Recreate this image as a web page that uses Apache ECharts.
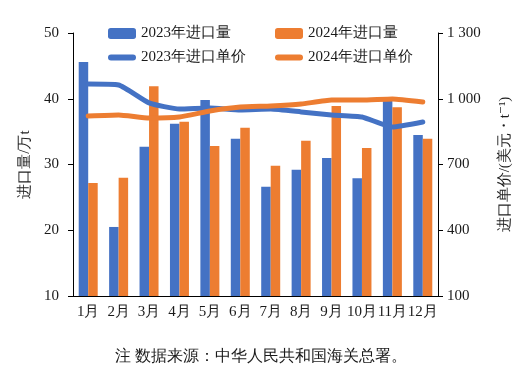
<!DOCTYPE html>
<html><head><meta charset="utf-8">
<script src="https://cdn.jsdelivr.net/npm/echarts@6/dist/echarts.min.js"></script>
<style>html,body{margin:0;padding:0;background:#fff}#c{width:521px;height:376px}</style>
</head><body><div id="c"></div>
<script>
const categories = ['1月','2月','3月','4月','5月','6月','7月','8月','9月','10月','11月','12月'];
const vol2023 = [45.6, 20.5, 32.7, 36.2, 39.8, 33.9, 26.6, 29.2, 31.0, 27.9, 39.8, 34.5];
const vol2024 = [27.2, 28.0, 41.9, 36.5, 32.8, 35.6, 29.8, 33.6, 38.9, 32.5, 38.7, 33.9];
const price2023 = [1067, 1063, 981, 953, 958, 949, 953, 940, 926, 917, 871, 894];
const price2024 = [921, 926, 912, 917, 944, 962, 967, 976, 994, 994, 999, 985];
const leftTicks = [10, 20, 30, 40, 50];
const rightTicks = [100, 400, 700, 1000, 1300];
const footnote = '注 数据来源：中华人民共和国海关总署。';

const FONT = "'Times New Roman', 'Liberation Serif', 'DejaVu Serif', serif";
const BLUE = '#4472C4', ORANGE = '#ED7D31', TXT = '#1a1a1a';
const LINE_ICON = 'path://M0,0 M28,11 M3,2.5 L25,2.5 A3,3 0 0 1 25,8.5 L3,8.5 A3,3 0 0 1 3,2.5 Z';
const chart = echarts.init(document.getElementById('c'), null, {renderer: 'canvas'});
const axisLine = {show: true, lineStyle: {color: '#000', width: 1}};
const fmt = v => v >= 1000 ? Math.floor(v/1000) + ' ' + String(v%1000).padStart(3,'0') : String(v);
const legendText = {fontFamily: FONT, fontSize: 15, color: TXT};
chart.setOption({
  animation: false,
  textStyle: {fontFamily: FONT, color: TXT},
  grid: {left: 73, right: 78, top: 33, bottom: 80},
  legend: [
    {left: 103, top: 21, orient: 'vertical', itemWidth: 28, itemHeight: 11, itemGap: 9, textStyle: legendText,
     data: [{name: '2023年进口量'}, {name: '2023年进口单价', icon: LINE_ICON, itemStyle: {color: BLUE}, lineStyle: {opacity: 0, width: 0}}]},
    {left: 270, top: 21, orient: 'vertical', itemWidth: 28, itemHeight: 11, itemGap: 9, textStyle: legendText,
     data: [{name: '2024年进口量'}, {name: '2024年进口单价', icon: LINE_ICON, itemStyle: {color: ORANGE}, lineStyle: {opacity: 0, width: 0}}]}
  ],
  xAxis: {
    type: 'category', data: categories,
    axisLine: axisLine, axisTick: {show: false},
    axisLabel: {interval: 0, margin: 9, fontSize: 15, color: TXT, fontFamily: FONT}
  },
  yAxis: [
    {type: 'value', min: 10, max: 50, interval: 10, name: '进口量/万t', nameLocation: 'middle',
     nameGap: 40, nameRotate: 90, nameTextStyle: {fontSize: 15, color: TXT, fontFamily: FONT},
     axisLine: axisLine, axisTick: {show: true, inside: false, length: 5, lineStyle: {color: '#000'}},
     splitLine: {show: false},
     axisLabel: {margin: 14, fontSize: 15, color: TXT, fontFamily: FONT, customValues: leftTicks}},
    {type: 'value', min: 100, max: 1300, position: 'right', name: '进口单价/(美元・t⁻¹)', nameLocation: 'middle',
     nameGap: 60, nameRotate: 90, nameTextStyle: {fontSize: 15, color: TXT, fontFamily: FONT},
     axisLine: axisLine, axisTick: {show: true, length: 5, lineStyle: {color: '#000'}, customValues: rightTicks},
     splitLine: {show: false},
     axisLabel: {margin: 9, fontSize: 15, color: TXT, fontFamily: FONT, customValues: rightTicks, formatter: fmt}}
  ],
  series: [
    {name: '2023年进口量', type: 'bar', data: vol2023, barWidth: 9.5, barGap: '0%', itemStyle: {color: BLUE}},
    {name: '2024年进口量', type: 'bar', data: vol2024, barWidth: 9.5, barGap: '0%', itemStyle: {color: ORANGE}},
    {name: '2023年进口单价', type: 'line', yAxisIndex: 1, data: price2023, showSymbol: false, symbol: 'none', smooth: 0.15,
     lineStyle: {color: BLUE, width: 5, cap: 'round', join: 'round'}, itemStyle: {color: BLUE}, z: 5},
    {name: '2024年进口单价', type: 'line', yAxisIndex: 1, data: price2024, showSymbol: false, symbol: 'none', smooth: 0.15,
     lineStyle: {color: ORANGE, width: 5, cap: 'round', join: 'round'}, itemStyle: {color: ORANGE}, z: 5}
  ],
  graphic: [{type: 'text', left: 'center', top: 349,
    style: {text: footnote, fontSize: 16, fontFamily: FONT, fill: TXT}}]
});
</script></body></html>
